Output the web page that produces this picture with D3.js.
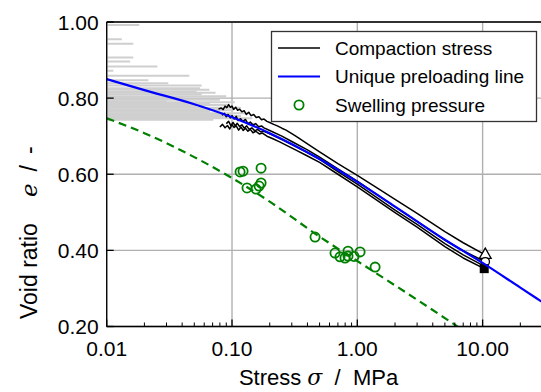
<!DOCTYPE html>
<html><head><meta charset="utf-8">
<script src="https://cdn.jsdelivr.net/npm/d3@7/dist/d3.min.js"></script>
<style>html,body{margin:0;padding:0;background:#fff;} svg{display:block;font-family:"Liberation Sans",Arial,sans-serif;}</style>
</head><body>
<svg id="chart" width="541" height="392"></svg>
<script>
// ---------- data ----------
const xTickValues = [0.01, 0.1, 1, 10];
const xTickLabels = ["0.01", "0.10", "1.00", "10.00"];
const yTickValues = [0.2, 0.4, 0.6, 0.8, 1.0];
const yTickLabels = ["0.20", "0.40", "0.60", "0.80", "1.00"];

// gray low-stress traces (horizontal segments from the left edge)
const grayE     = [0.992,0.955,0.943,0.907,0.896,0.883,0.872,0.859,0.847,0.839,0.833,0.826,0.822,0.817,0.814,0.810,0.805,0.801,0.796,0.792,0.789,0.786,0.782,0.779,0.775,0.771,0.768,0.764,0.760,0.757,0.753,0.750,0.747,0.743];
const graySigma = [0.0182,0.0132,0.0163,0.0163,0.0154,0.0254,0.0113,0.0456,0.0215,0.031,0.0573,0.0556,0.066,0.0522,0.074,0.0573,0.090,0.0408,0.080,0.0301,0.105,0.0667,0.095,0.0522,0.118,0.0853,0.100,0.0667,0.135,0.102,0.118,0.0853,0.145,0.071];

// compaction stress curves
const compA_sigma = [0.078,0.082,0.085,0.088,0.091,0.094,0.097,0.1,0.103,0.107,0.111,0.115,0.12,0.125,0.13,0.136,0.142,0.149,0.156,0.164,0.172,0.18,0.19,0.2,0.215,0.23,0.25,0.27,0.3,0.33,0.4,0.5,0.7,1,1.5,2,3,5,7,10.5];
const compA_e     = [0.771,0.774,0.770,0.779,0.775,0.783,0.776,0.779,0.770,0.776,0.768,0.771,0.764,0.767,0.757,0.763,0.754,0.757,0.749,0.751,0.743,0.745,0.739,0.736,0.731,0.727,0.721,0.716,0.707,0.698,0.680,0.659,0.628,0.597,0.560,0.534,0.497,0.449,0.420,0.388];
const compB_sigma = [0.083,0.087,0.09,0.093,0.097,0.1,0.104,0.108,0.112,0.117,0.122,0.128,0.134,0.14,0.147,0.155,0.163,0.172,0.18,0.2,0.25,0.3,0.4,0.5,0.7,1,2,3,5,7,10.5];
const compB_e     = [0.755,0.760,0.751,0.757,0.748,0.754,0.745,0.752,0.741,0.746,0.739,0.744,0.733,0.737,0.730,0.733,0.725,0.727,0.722,0.715,0.700,0.686,0.664,0.645,0.614,0.582,0.514,0.476,0.427,0.399,0.370];
const compC_sigma = [0.08,0.084,0.088,0.092,0.096,0.1,0.104,0.108,0.113,0.118,0.123,0.128,0.134,0.14,0.147,0.155,0.165,0.175,0.19,0.21,0.24,0.28,0.33,0.4,0.5,0.7,1,2,3,5,7,10.3];
const compC_e     = [0.724,0.731,0.722,0.728,0.719,0.730,0.723,0.727,0.716,0.724,0.715,0.721,0.713,0.718,0.709,0.713,0.706,0.708,0.700,0.694,0.685,0.674,0.662,0.648,0.631,0.600,0.567,0.499,0.461,0.410,0.380,0.352];
const compD_sigma = [0.09,0.094,0.098,0.102,0.106,0.11,0.115,0.12,0.125,0.131,0.137,0.144,0.152,0.16,0.17,0.18,0.2,0.25,0.3,0.4,0.5,0.7,1,2,3,5,7,10.4];
const compD_e     = [0.733,0.739,0.728,0.736,0.727,0.734,0.725,0.730,0.721,0.727,0.718,0.722,0.714,0.718,0.711,0.713,0.706,0.691,0.678,0.657,0.639,0.607,0.574,0.506,0.468,0.418,0.388,0.358];

// end markers of compaction curves
const markerSigma = [10.5, 10.5, 10.3];
const markerE     = [0.388, 0.370, 0.352];
const markerShape = ["triangle", "circle", "square"];

// unique preloading line
const uplSigma = [0.01,0.02,0.05,0.1,0.2,0.5,1,2,5,10,20,30];
const uplE     = [0.850,0.821,0.784,0.750,0.708,0.640,0.580,0.515,0.428,0.367,0.302,0.264];

// swelling pressure fit (dashed)
const fitSigma = [0.01,0.02,0.05,0.1,0.2,0.5,1,2,5,7];
const fitE     = [0.747,0.708,0.645,0.590,0.528,0.436,0.372,0.308,0.222,0.190];

// swelling pressure measurements
const swSigma = [0.116,0.1225,0.1706,0.1318,0.1556,0.1706,0.1644,0.460,0.664,0.728,0.798,0.843,0.843,0.941,1.052,1.387];
const swE     = [0.606,0.608,0.616,0.564,0.561,0.577,0.569,0.435,0.393,0.383,0.380,0.398,0.385,0.384,0.396,0.356];

const legendLabels = ["Compaction stress", "Unique preloading line", "Swelling pressure"];

// ---------- layout ----------
const L = 106.7, R = 542.4, T = 22, B = 326.5;
const svg = d3.select("#chart");
const x = d3.scaleLog().domain([0.01, 30]).range([L, R]);
const y = d3.scaleLinear().domain([0.2, 1.0]).range([B, T]);

svg.append("defs").append("clipPath").attr("id","clip")
  .append("rect").attr("x",L).attr("y",T).attr("width",R-L).attr("height",B-T);

// grid
const grid = svg.append("g");
grid.selectAll(".gx").data(xTickValues).join("line")
  .attr("x1",d=>x(d)).attr("x2",d=>x(d)).attr("y1",T).attr("y2",B)
  .attr("stroke","#b0b0b0").attr("stroke-width",1.4);
grid.selectAll(".gy").data(yTickValues).join("line")
  .attr("x1",L).attr("x2",R).attr("y1",d=>y(d)).attr("y2",d=>y(d))
  .attr("stroke","#b0b0b0").attr("stroke-width",1.4);

const plot = svg.append("g").attr("clip-path","url(#clip)");

// gray traces
plot.selectAll(".gray").data(grayE.map((e,i)=>({e, s:graySigma[i]}))).join("line")
  .attr("x1",x(0.01)).attr("x2",d=>x(d.s)).attr("y1",d=>y(d.e)).attr("y2",d=>y(d.e))
  .attr("stroke","#cfcfcf").attr("stroke-width",2);

// compaction curves
const lineGen = d3.line().x(d=>x(d[0])).y(d=>y(d[1]));
const comps = [[compA_sigma,compA_e],[compB_sigma,compB_e],[compC_sigma,compC_e],[compD_sigma,compD_e]];
comps.forEach(([s,e])=>{
  plot.append("path").datum(s.map((v,i)=>[v,e[i]])).attr("d",lineGen)
    .attr("fill","none").attr("stroke","#000").attr("stroke-width",1.5).attr("stroke-linejoin","round");
});

// markers
markerShape.forEach((shape,i)=>{
  const cx = x(markerSigma[i]), cy = y(markerE[i]);
  if(shape==="triangle"){
    plot.append("path").attr("d",d3.symbol(d3.symbolTriangle,60)()).attr("transform",`translate(${cx},${cy})`)
      .attr("fill","#fff").attr("stroke","#000").attr("stroke-width",1.3);
  } else if(shape==="circle"){
    plot.append("circle").attr("cx",cx).attr("cy",cy).attr("r",4.2)
      .attr("fill","#fff").attr("stroke","#000").attr("stroke-width",1.3);
  } else {
    plot.append("rect").attr("x",cx-4.5).attr("y",cy-4.5).attr("width",9).attr("height",9)
      .attr("fill","#000");
  }
});

// unique preloading line
const smooth = d3.line().x(d=>x(d[0])).y(d=>y(d[1])).curve(d3.curveMonotoneX);
plot.append("path").datum(uplSigma.map((v,i)=>[v,uplE[i]])).attr("d",smooth)
  .attr("fill","none").attr("stroke","#0000ff").attr("stroke-width",2.2);

// swelling fit
plot.append("path").datum(fitSigma.map((v,i)=>[v,fitE[i]])).attr("d",smooth)
  .attr("fill","none").attr("stroke","#008000").attr("stroke-width",2.2).attr("stroke-dasharray","8,5");

// swelling points
plot.selectAll(".sw").data(swSigma.map((s,i)=>({s,e:swE[i]}))).join("circle")
  .attr("cx",d=>x(d.s)).attr("cy",d=>y(d.e)).attr("r",4.6)
  .attr("fill","none").attr("stroke","#008000").attr("stroke-width",1.8);

// spines
svg.append("line").attr("x1",L).attr("x2",L).attr("y1",T).attr("y2",B).attr("stroke","#000").attr("stroke-width",1.3);
svg.append("line").attr("x1",L).attr("x2",R).attr("y1",B).attr("y2",B).attr("stroke","#000").attr("stroke-width",1.3);
svg.append("line").attr("x1",L).attr("x2",R).attr("y1",T).attr("y2",T).attr("stroke","#000").attr("stroke-width",1.3);

// x ticks (inward), major + minor
const minor = [];
[0.01,0.1,1,10].forEach(d=>{ for(let k=2;k<=9;k++){ const v=d*k; if(v<=30) minor.push(v);} });
svg.selectAll(".mt").data(minor).join("line")
  .attr("x1",d=>x(d)).attr("x2",d=>x(d)).attr("y1",B).attr("y2",B-4)
  .attr("stroke","#000").attr("stroke-width",1);
svg.selectAll(".Mt").data(xTickValues).join("line")
  .attr("x1",d=>x(d)).attr("x2",d=>x(d)).attr("y1",B).attr("y2",B-7)
  .attr("stroke","#000").attr("stroke-width",1.3);
svg.selectAll(".My").data(yTickValues).join("line")
  .attr("x1",L).attr("x2",L+7).attr("y1",d=>y(d)).attr("y2",d=>y(d))
  .attr("stroke","#000").attr("stroke-width",1.3);

// tick labels
svg.selectAll(".xl").data(xTickValues).join("text")
  .attr("x",d=>x(d)).attr("y",B+29).attr("text-anchor","middle")
  .attr("font-size",21).attr("fill","#000").text((d,i)=>xTickLabels[i]);
svg.selectAll(".yl").data(yTickValues).join("text")
  .attr("x",L-8).attr("y",d=>y(d)).attr("dy","0.36em").attr("text-anchor","end")
  .attr("font-size",21).attr("fill","#000").text((d,i)=>yTickLabels[i]);

// axis labels
const xl = svg.append("text").attr("x",(L+R)/2-6).attr("y",385).attr("text-anchor","middle").attr("font-size",22).attr("fill","#000").attr("xml:space","preserve");
xl.append("tspan").text("Stress ");
xl.append("tspan").attr("font-style","italic").attr("font-family","DejaVu Serif, serif").text("σ");
xl.append("tspan").text("  /  MPa");
const yl = svg.append("text").attr("transform","translate(37,319) rotate(-90)").attr("text-anchor","start").attr("font-size",23).attr("fill","#000");
yl.append("tspan").text("Void ratio");
yl.append("tspan").attr("dx",26).attr("font-style","italic").attr("font-family","DejaVu Serif, serif").text("e");
yl.append("tspan").attr("dx",12).text("/");
yl.append("tspan").attr("dx",11).text("-");

// legend
const lg = svg.append("g");
lg.append("rect").attr("x",271.5).attr("y",31.5).attr("width",265).attr("height",90)
  .attr("fill","#fff").attr("stroke","#333").attr("stroke-width",1.3);
const rows = [48, 76.5, 105];
lg.append("line").attr("x1",278).attr("x2",320).attr("y1",rows[0]).attr("y2",rows[0]).attr("stroke","#000").attr("stroke-width",1.5);
lg.append("line").attr("x1",278).attr("x2",320).attr("y1",rows[1]).attr("y2",rows[1]).attr("stroke","#0000ff").attr("stroke-width",2.2);
lg.append("circle").attr("cx",299).attr("cy",rows[2]).attr("r",4.6).attr("fill","none").attr("stroke","#008000").attr("stroke-width",1.8);
legendLabels.forEach((t,i)=>{
  lg.append("text").attr("x",335).attr("y",rows[i]).attr("dy","0.36em").attr("font-size",19).attr("fill","#000").text(t);
});
</script>
</body></html>
